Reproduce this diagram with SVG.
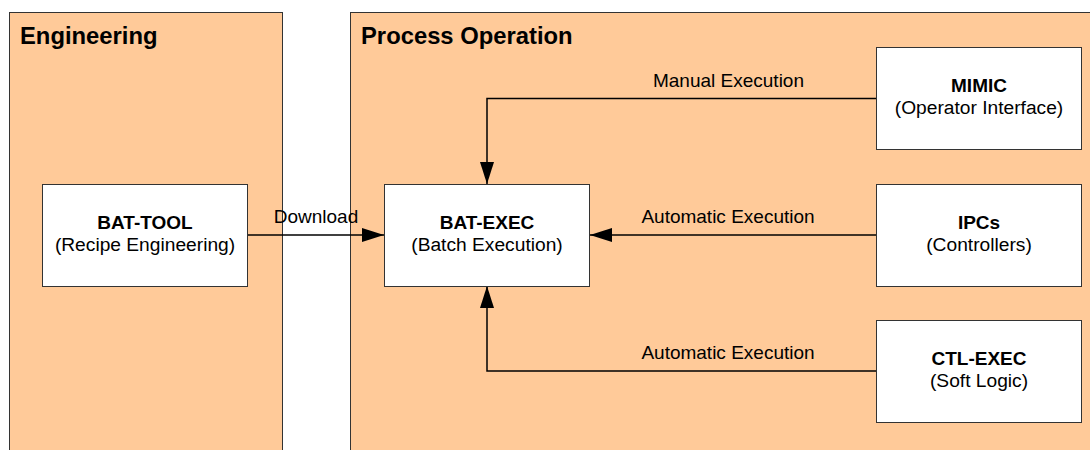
<svg xmlns="http://www.w3.org/2000/svg" width="1090" height="450" viewBox="0 0 1090 450">
<defs>
<style>
.panel{fill:#FFCA99;stroke:#333;stroke-width:1}
.node rect{fill:#fff;stroke:#333;stroke-width:1}
.title{font-family:"Liberation Sans",Arial,sans-serif;font-weight:bold;font-size:23.8px;fill:#000}
.nt{font-family:"Liberation Sans",Arial,sans-serif;font-weight:bold;font-size:19px;fill:#000;text-anchor:middle}
.ns{font-family:"Liberation Sans",Arial,sans-serif;font-size:19.2px;fill:#000;text-anchor:middle}
.lbl{font-family:"Liberation Sans",Arial,sans-serif;font-size:19px;fill:#000;text-anchor:middle}
.conn{fill:none;stroke:#000;stroke-width:1.5}
</style>
<marker id="ah" markerWidth="22" markerHeight="14" refX="22" refY="7" orient="auto" markerUnits="userSpaceOnUse">
<path d="M0,0 L22,7 L0,14 Z" fill="#000"/>
</marker>
</defs>
<rect width="1090" height="450" fill="#fff"/>
<g id="panel-engineering">
<rect class="panel" x="9.5" y="12.5" width="273" height="445"/>
<text class="title" x="20" y="44">Engineering</text>
</g>
<g id="panel-process">
<rect class="panel" x="350.5" y="12.5" width="750" height="445"/>
<text class="title" x="361" y="44">Process Operation</text>
</g>
<g id="connectors">
<path class="conn" d="M248,235 H384" marker-end="url(#ah)"/>
<path class="conn" d="M876,98.5 H487 V184" marker-end="url(#ah)"/>
<path class="conn" d="M876,235 H590" marker-end="url(#ah)"/>
<path class="conn" d="M876,371 H487 V286" marker-end="url(#ah)"/>
<text class="lbl" x="316" y="223">Download</text>
<text class="lbl" x="728.5" y="87">Manual Execution</text>
<text class="lbl" x="728" y="223">Automatic Execution</text>
<text class="lbl" x="728" y="359">Automatic Execution</text>
</g>
<g id="node-bat-tool" class="node">
<rect x="42.5" y="184.5" width="205" height="102"/>
<text class="nt" x="145" y="229">BAT-TOOL</text>
<text class="ns" x="145" y="251">(Recipe Engineering)</text>
</g>
<g id="node-bat-exec" class="node">
<rect x="384.5" y="184.5" width="205" height="102"/>
<text class="nt" x="487" y="229">BAT-EXEC</text>
<text class="ns" x="487" y="251">(Batch Execution)</text>
</g>
<g id="node-mimic" class="node">
<rect x="876.5" y="47.5" width="205" height="102"/>
<text class="nt" x="979" y="92">MIMIC</text>
<text class="ns" x="979" y="114">(Operator Interface)</text>
</g>
<g id="node-ipcs" class="node">
<rect x="876.5" y="184.5" width="205" height="102"/>
<text class="nt" x="979" y="229">IPCs</text>
<text class="ns" x="979" y="251">(Controllers)</text>
</g>
<g id="node-ctl-exec" class="node">
<rect x="876.5" y="320.5" width="205" height="102"/>
<text class="nt" x="979" y="365">CTL-EXEC</text>
<text class="ns" x="979" y="387">(Soft Logic)</text>
</g>
</svg>
